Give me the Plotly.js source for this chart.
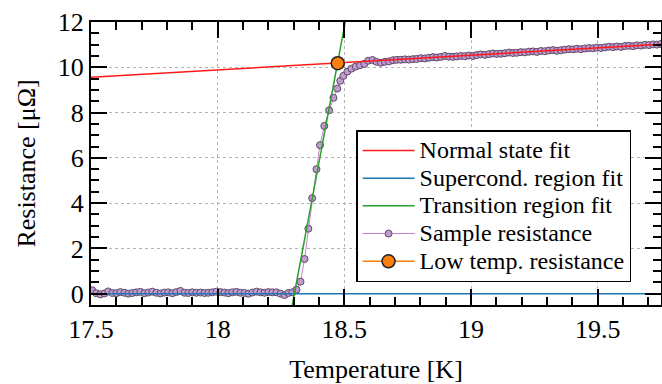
<!DOCTYPE html>
<html>
<head>
<meta charset="utf-8">
<script src="https://cdn.plot.ly/plotly-3.0.1.min.js"></script>
<style>html,body{margin:0;padding:0;background:#fff;}#chart{width:662px;height:384px;}</style>
</head>
<body>
<div id="chart"></div>
<script>
// Sample resistance measurement (temperature in K, resistance in µΩ)
const sampleT = [
  17.505, 17.521, 17.537, 17.553, 17.568, 17.584, 17.600, 17.616, 17.632, 17.647,
  17.663, 17.679, 17.695, 17.711, 17.726, 17.742, 17.758, 17.774, 17.790, 17.805,
  17.821, 17.837, 17.853, 17.869, 17.884, 17.900, 17.916, 17.932, 17.948, 17.963,
  17.979, 17.995, 18.011, 18.027, 18.042, 18.058, 18.074, 18.090, 18.106, 18.121,
  18.137, 18.153, 18.169, 18.185, 18.200, 18.216, 18.232, 18.248, 18.264, 18.279,
  18.295, 18.311,
  18.327, 18.343, 18.358, 18.373, 18.390, 18.404, 18.421, 18.440, 18.457, 18.472,
  18.484, 18.496, 18.512, 18.528, 18.545, 18.562, 18.579, 18.594, 18.611, 18.627,
  18.644,
  18.660, 18.676, 18.692, 18.707, 18.723, 18.739, 18.755, 18.771, 18.786, 18.802,
  18.818, 18.834, 18.850, 18.865, 18.881, 18.897, 18.913, 18.929, 18.944, 18.960,
  18.976, 18.992, 19.008, 19.023, 19.039, 19.055, 19.071, 19.087, 19.102, 19.118,
  19.134, 19.150, 19.166, 19.181, 19.197, 19.213, 19.229, 19.245, 19.260, 19.276,
  19.292, 19.308, 19.324, 19.339, 19.355, 19.371, 19.387, 19.403, 19.418, 19.434,
  19.450, 19.466, 19.482, 19.497, 19.513, 19.529, 19.545, 19.561, 19.576, 19.592,
  19.608, 19.624, 19.640, 19.655, 19.671, 19.687, 19.703, 19.719, 19.734, 19.750
];
const sampleR = [
  0.15, 0.02, -0.03, 0.01, 0.10, 0.03, 0.02, 0.07, 0.04, 0.00,
  0.03, 0.06, 0.08, 0.02, 0.05, 0.09, 0.04, 0.01, 0.05, 0.06,
  0.02, 0.07, 0.12, 0.04, 0.03, 0.06, 0.04, 0.05, 0.03, 0.04,
  0.06, 0.09, 0.07, 0.05, 0.02, 0.06, 0.08, 0.04, 0.03, 0.00,
  0.05, 0.09, 0.06, 0.04, 0.07, 0.06, 0.06, 0.00, -0.06, 0.03,
  0.06, 0.18,
  0.53, 1.53, 2.87, 4.22, 5.50, 6.56, 7.41, 8.10, 8.65, 9.06,
  9.40, 9.62, 9.81, 9.94, 10.03, 10.09, 10.15, 10.29, 10.32, 10.24,
  10.20,
  10.24, 10.26, 10.31, 10.33, 10.33, 10.35, 10.34, 10.36, 10.37, 10.40,
  10.39, 10.42, 10.45, 10.43, 10.46, 10.50, 10.47, 10.46, 10.48, 10.50,
  10.49, 10.52, 10.50, 10.54, 10.57, 10.55, 10.58, 10.61, 10.59, 10.60,
  10.62, 10.65, 10.63, 10.64, 10.67, 10.66, 10.69, 10.70, 10.68, 10.72,
  10.71, 10.74, 10.76, 10.73, 10.75, 10.78, 10.80, 10.79, 10.82, 10.80,
  10.83, 10.85, 10.84, 10.87, 10.85, 10.88, 10.91, 10.89, 10.92, 10.90,
  10.94, 10.95, 10.93, 10.97, 10.96, 10.99, 10.98, 11.01, 11.00, 11.03
];

// Fit lines (end points)
const normalFitT = [17.5, 19.75];
const normalFitR = [9.56, 11.02];
const supercondFitT = [17.5, 19.75];
const supercondFitR = [0, 0];
const transitionFitT = [18.2946, 18.512];
const transitionFitR = [-0.5, 12.5];

// Low temperature resistance point (intersection)
const lowTempT = [18.474];
const lowTempR = [10.18];

const xTicks = [17.5, 18, 18.5, 19, 19.5];
const xTickText = ['17.5', '18', '18.5', '19', '19.5'];
const yTicks = [0, 2, 4, 6, 8, 10, 12];
const yTickText = ['0', '2', '4', '6', '8', '10', '12'];

const FONT = '"Liberation Serif", "Times New Roman", serif';
const LS = (s) => '<span style="font-size:24px">' + s + '</span>';

const traces = [
  {
    x: sampleT, y: sampleR, type: 'scatter', mode: 'lines+markers',
    name: LS('Sample resistance'), legendrank: 4,
    line: {color: '#c77fcc', width: 1},
    marker: {size: 7, color: '#bf9bcf', line: {color: '#5e4a66', width: 1}}
  },
  {
    x: normalFitT, y: normalFitR, type: 'scatter', mode: 'lines',
    name: LS('Normal state fit'), legendrank: 1,
    line: {color: '#ff1a1a', width: 1.5}
  },
  {
    x: supercondFitT, y: supercondFitR, type: 'scatter', mode: 'lines',
    name: LS('Supercond. region fit'), legendrank: 2,
    line: {color: '#1f77b4', width: 1.5}
  },
  {
    x: transitionFitT, y: transitionFitR, type: 'scatter', mode: 'lines',
    name: LS('Transition region fit'), legendrank: 3,
    line: {color: '#2ca02c', width: 1.5}
  },
  {
    x: lowTempT, y: lowTempR, type: 'scatter', mode: 'lines+markers',
    name: LS('Low temp. resistance'), legendrank: 5,
    line: {color: '#ff7f0e', width: 1.5},
    marker: {size: 13, color: '#ff7f0e', line: {color: '#222', width: 1.5}}
  }
];

const axisCommon = {
  showline: true, linecolor: '#000', linewidth: 2, mirror: 'allticks',
  ticks: 'inside', ticklen: 16, tickwidth: 2, tickcolor: '#000',
  showgrid: true, gridcolor: '#b5b5b5', gridwidth: 1, griddash: '3px,3px',
  zeroline: false,
  tickfont: {family: FONT, size: 26, color: '#000'}
};

const layout = {
  width: 662, height: 384,
  margin: {l: 91, r: 1, t: 22, b: 79},
  paper_bgcolor: '#fff', plot_bgcolor: '#fff',
  font: {family: FONT, color: '#000'},
  showlegend: true,
  legend: {
    x: 0.465, y: 0.618, xanchor: 'left', yanchor: 'top',
    bgcolor: '#fff', bordercolor: '#000', borderwidth: 1.5,
    font: {family: FONT, size: 19, color: '#000'},
    itemwidth: 52, tracegroupgap: 0
  },
  xaxis: Object.assign({}, axisCommon, {
    range: [17.5, 19.75], tickmode: 'array', tickvals: xTicks, ticktext: xTickText,
    minor: {dtick: 0.1, tick0: 17.5, ticks: 'inside', ticklen: 8, tickwidth: 2, tickcolor: '#000', showgrid: false},
    title: {text: 'Temperature [K]', font: {family: FONT, size: 26, color: '#000'}, standoff: 17}
  }),
  yaxis: Object.assign({}, axisCommon, {
    range: [-0.5, 12], tickmode: 'array', tickvals: yTicks, ticktext: yTickText,
    minor: {dtick: 0.5, tick0: 0, ticks: 'inside', ticklen: 8, tickwidth: 2, tickcolor: '#000', showgrid: false},
    title: {text: 'Resistance [μΩ]', font: {family: FONT, size: 26, color: '#000'}, standoff: 15}
  })
};

Plotly.newPlot('chart', traces, layout, {staticPlot: true, displayModeBar: false});
</script>
</body>
</html>
